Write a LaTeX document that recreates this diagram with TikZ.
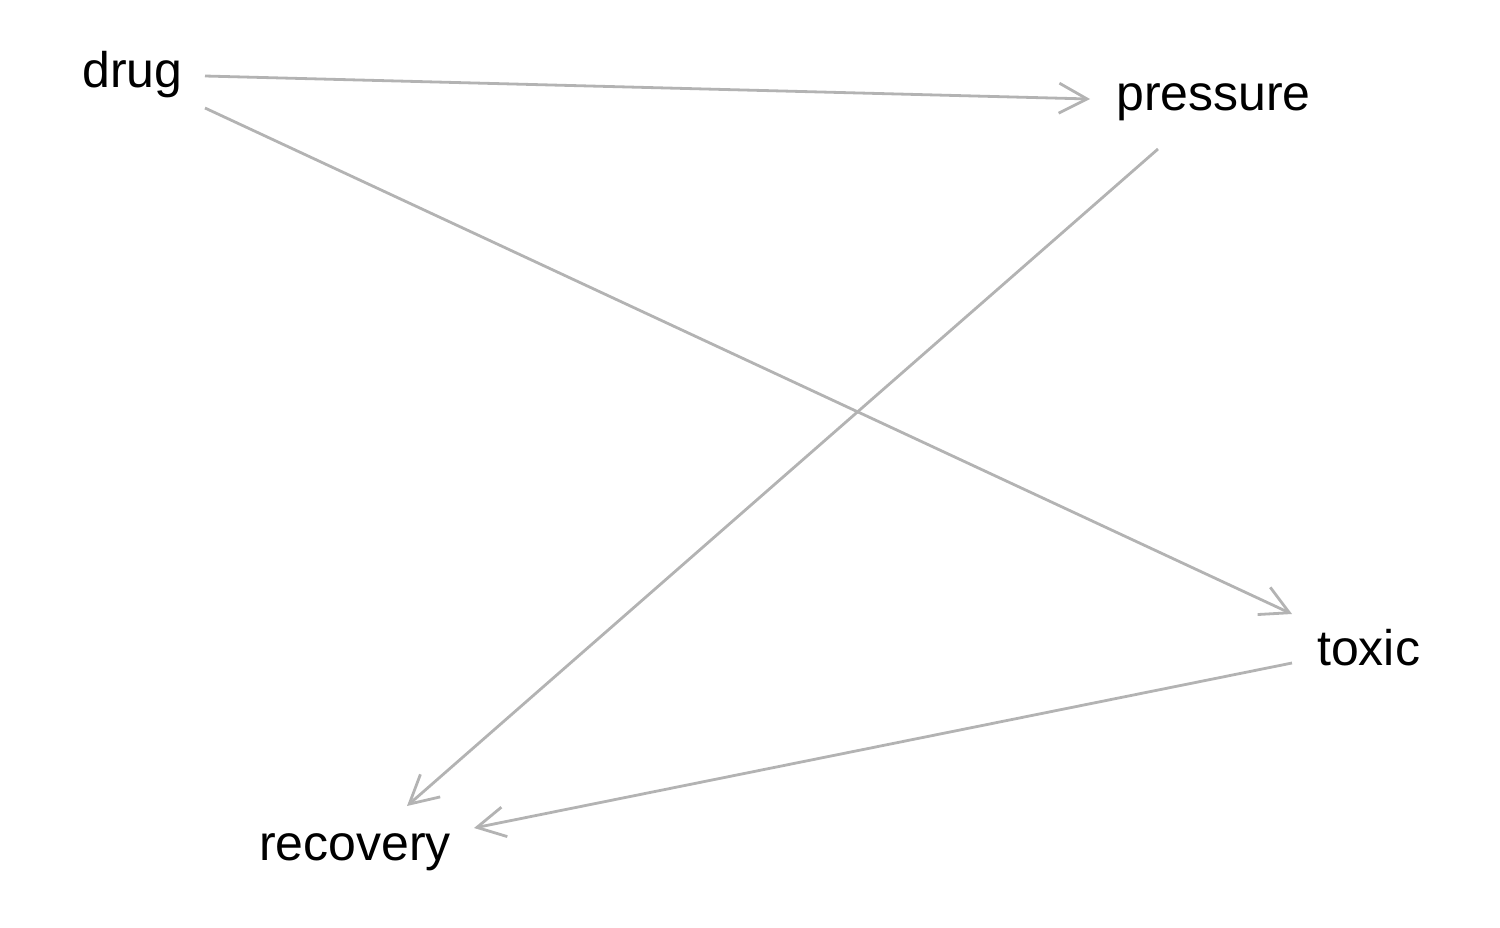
\documentclass[tikz,border=0pt]{standalone}
\usepackage{fontspec}
\setmainfont{Liberation Sans}
\usetikzlibrary{arrows.meta}
\definecolor{edgegray}{HTML}{B3B3B3}
\tikzset{
  lbl/.style={anchor=base west, inner sep=0pt, font=\fontsize{50}{60}\selectfont, text=black},
  edge/.style={draw=edgegray, line width=2.8pt, -{Straight Barb[length=28pt,width=30pt,line width=2.8pt]}}
}
\begin{document}
\begin{tikzpicture}[x=1pt,y=-1pt]
\useasboundingbox (0,0) rectangle (1500,927);
\node[lbl] (drug) at (82,87) {drug};
\node[lbl] (pressure) at (1116,110) {pressure};
\node[lbl] (toxic) at (1317,665) {toxic};
\node[lbl] (recovery) at (259,860) {recovery};
\coordinate (drug-o1) at (205,76);
\coordinate (drug-o2) at (205,108);
\coordinate (pressure-i) at (1090,99);
\coordinate (pressure-o) at (1158,149);
\coordinate (toxic-i) at (1292,614);
\coordinate (toxic-o) at (1292,663);
\coordinate (recovery-i1) at (407,806);
\coordinate (recovery-i2) at (474,828);
\draw[edge] (drug-o1) -- (pressure-i);
\draw[edge] (drug-o2) -- (toxic-i);
\draw[edge] (pressure-o) -- (recovery-i1);
\draw[edge] (toxic-o) -- (recovery-i2);
\end{tikzpicture}
\end{document}
